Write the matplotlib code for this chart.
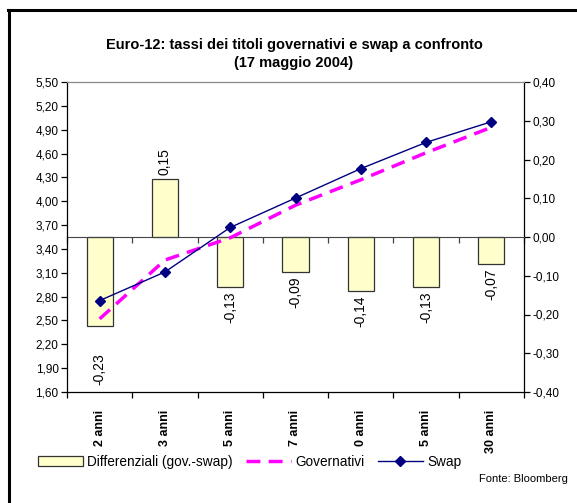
import numpy as np
import matplotlib
matplotlib.use("Agg")
import matplotlib.pyplot as plt
from matplotlib.ticker import FixedLocator, FuncFormatter
from matplotlib.lines import Line2D

plt.rcParams['font.family'] = ['Liberation Sans', 'DejaVu Sans']

# ==========================================================
# DATI
# ==========================================================
scadenze = ["2 anni", "3 anni", "5 anni", "7 anni", "0 anni", "5 anni", "30 anni"]
swap = [2.75, 3.11, 3.67, 4.04, 4.41, 4.74, 5.00]
governativi = [2.52, 3.26, 3.54, 3.95, 4.27, 4.61, 4.93]
differenziali = [-0.23, 0.15, -0.13, -0.09, -0.14, -0.13, -0.07]

# spostamento delle etichette dei differenziali (punti)
label_offset = [19.5, 3, 3, 3, 3, 3, 3]

W, H = 577, 503
fig = plt.figure(figsize=(W / 100, H / 100), dpi=100)
ax = fig.add_axes([67 / W, 1 - 392 / H, (524 - 67) / W, (392 - 82) / H])
ax2 = ax.twinx()

x = np.arange(len(scadenze))

# barre dei differenziali sull'asse destro
bars = ax2.bar(x, differenziali, width=0.4, color="#FFFFCC",
               edgecolor="#333333", linewidth=0.9,
               label="Differenziali (gov.-swap)")
for xi, v, off in zip(x, differenziali, label_offset):
    txt = f"{v:.2f}".replace(".", ",")
    if v < 0:
        ax2.annotate(txt, (xi, v), xytext=(0, -off), textcoords="offset points",
                     rotation=90, ha="center", va="top", fontsize=10)
    else:
        ax2.annotate(txt, (xi, v), xytext=(0, off), textcoords="offset points",
                     rotation=90, ha="center", va="bottom", fontsize=10)

# linee dei tassi sull'asse sinistro
gov_line, = ax.plot(x, governativi, color="#FF00FF", lw=2.5,
                    dashes=(4, 2.4), label="Governativi", zorder=3)
swap_line, = ax.plot(x, swap, color="#000080", lw=1.0, marker="D",
                     markersize=5.5, label="Swap", zorder=4)

ax.set_zorder(ax2.get_zorder() + 1)
ax.patch.set_visible(False)

# assi
ax.set_xlim(-0.5, len(scadenze) - 0.5)
ax.set_ylim(1.60, 5.50)
ax2.set_ylim(-0.40, 0.40)
ax.set_yticks(np.arange(1.60, 5.51, 0.30))
ax2.set_yticks(np.arange(-0.40, 0.41, 0.10))
comma = FuncFormatter(lambda v, p: f"{v:.2f}".replace(".", ",").replace("-0,00", "0,00"))
ax.yaxis.set_major_formatter(comma)
ax2.yaxis.set_major_formatter(comma)

ax.set_xticks(x)
ax.set_xticklabels(scadenze, rotation=90, fontweight="bold", fontsize=9)
ax.xaxis.set_minor_locator(FixedLocator(np.arange(-0.5, len(scadenze), 1.0)))
ax.tick_params(axis="x", which="major", length=0, pad=13)
ax.tick_params(axis="x", which="minor", length=4, width=0.9, direction="out")
ax.tick_params(axis="y", length=4, width=0.9, labelsize=8.5, pad=2)
ax2.tick_params(axis="y", length=4, width=0.9, labelsize=8.5, pad=2)

# asse delle categorie sullo zero dei differenziali
ax2.xaxis.set_visible(True)
ax2.spines["bottom"].set_position(("data", 0))
ax2.spines["bottom"].set_color("#444444")
ax2.tick_params(axis="x", which="both", labelbottom=False)
ax2.tick_params(axis="x", which="minor", length=4, width=0.9, color="#444444")
ax2.tick_params(axis="x", which="major", length=0)

for s in ["left", "bottom"]:
    ax.spines[s].set_linewidth(0.9)
ax.spines["right"].set_visible(False)
ax.spines["top"].set_color("#888888")
ax.spines["top"].set_linewidth(0.9)
ax2.spines["left"].set_visible(False)
ax2.spines["top"].set_visible(False)
ax2.spines["right"].set_linewidth(0.9)

# titolo
fig.text(294 / W, 1 - 45 / H, "Euro-12: tassi dei titoli governativi e swap a confronto",
         ha="center", va="center", fontsize=10.5, fontweight="bold")
fig.text(294 / W, 1 - 63 / H, "(17 maggio 2004)",
         ha="center", va="center", fontsize=10.5, fontweight="bold")

# legenda
fig.legend(handles=[bars, gov_line, swap_line],
           labels=["Differenziali (gov.-swap)", "Governativi", "Swap"],
           loc="center left", bbox_to_anchor=(38 / W, 1 - 462 / H),
           ncol=3, frameon=False, fontsize=9.8, handlelength=3.3,
           handletextpad=0.3, columnspacing=1.0, borderpad=0, borderaxespad=0)

fig.text(568 / W, 1 - 479 / H, "Fonte: Bloomberg", ha="right", va="center", fontsize=8)

# cornice
fig.add_artist(Line2D([8 / W, 1], [1 - 10 / H, 1 - 10 / H], color="black", lw=2.2,
                      transform=fig.transFigure))
fig.add_artist(Line2D([9 / W, 9 / W], [0, 1 - 10 / H], color="black", lw=2.2,
                      transform=fig.transFigure))

fig.savefig("out.png", dpi=100)
